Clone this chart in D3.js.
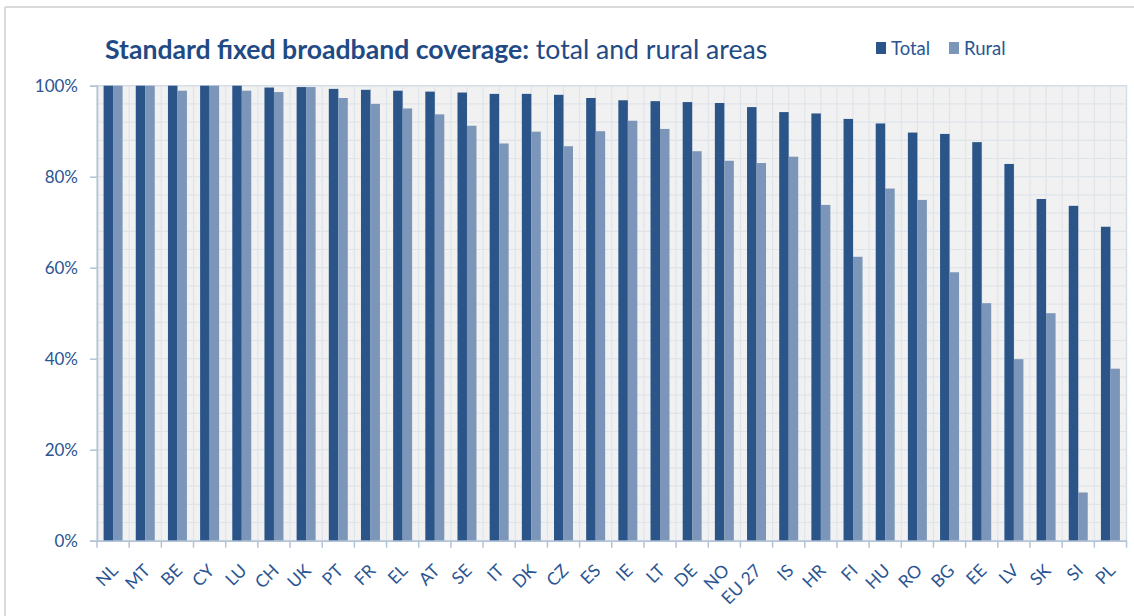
<!DOCTYPE html>
<html>
<head>
<meta charset="utf-8">
<script src="https://cdn.jsdelivr.net/npm/d3@7"></script>
<style>
  html, body { margin: 0; padding: 0; background: #fff; }
  svg { display: block; font-family: Lato, "Open Sans", sans-serif; }
</style>
</head>
<body>
<svg id="chart" width="1134" height="616"></svg>
<script>
// Coverage by country, in per cent
const countries = ["NL","MT","BE","CY","LU","CH","UK","PT","FR","EL","AT","SE","IT","DK","CZ","ES","IE","LT","DE","NO","EU 27","IS","HR","FI","HU","RO","BG","EE","LV","SK","SI","PL"];
const totalCoverage = [100,100,100,100,100,99.6,99.7,99.3,99.1,98.9,98.7,98.5,98.2,98.2,98.0,97.3,96.8,96.6,96.4,96.2,95.3,94.2,93.9,92.7,91.7,89.7,89.4,87.6,82.8,75.1,73.6,69.0];
const ruralCoverage = [100,100,98.9,100,98.9,98.6,99.7,97.3,96.0,95.0,93.7,91.2,87.3,89.9,86.7,90.0,92.3,90.5,85.6,83.5,83.0,84.4,73.8,62.4,77.4,74.9,59.0,52.2,39.9,50.0,10.6,37.8];
const seriesNames = ["Total","Rural"];
const yTicks = [0,20,40,60,80,100];

const colors = { Total: "#2b5589", Rural: "#7b96b8" };
const textBlue = "#2a5592";

const svg = d3.select("#chart");
const margin = { left: 97, right: 1134 - 1126.5, top: 85.7, bottom: 616 - 540.7 };
const W = 1134, H = 616;
const innerW = W - margin.left - margin.right;
const innerH = H - margin.top - margin.bottom;

// Outer frame
svg.append("line").attr("x1", 5).attr("x2", W).attr("y1", 7).attr("y2", 7)
  .attr("stroke", "#d9d9d9").attr("stroke-width", 2);
svg.append("line").attr("x1", 5).attr("x2", 5).attr("y1", 7).attr("y2", H)
  .attr("stroke", "#d9d9d9").attr("stroke-width", 2);

const g = svg.append("g").attr("transform", `translate(${margin.left},${margin.top})`);

const x = d3.scaleBand().domain(countries).range([0, innerW]).paddingInner(0).paddingOuter(0);
const groupW = x.bandwidth() * 0.59;
const xs = d3.scaleBand().domain(seriesNames).range([(x.bandwidth() - groupW) / 2, (x.bandwidth() + groupW) / 2]);
const y = d3.scaleLinear().domain([0, 100]).range([innerH, 0]);

// Plot background and fine grid
g.append("rect").attr("width", innerW).attr("height", innerH).attr("fill", "#f1f1f1")
  .attr("stroke", "#d5dde8").attr("stroke-width", 1.5);

const hGrid = d3.range(4, 100, 4);
g.append("g").selectAll("line").data(hGrid).join("line")
  .attr("x1", 0).attr("x2", innerW)
  .attr("y1", d => y(d)).attr("y2", d => y(d))
  .attr("stroke", "#dfe4eb").attr("stroke-width", 1.2);

const vGrid = [];
countries.forEach((c, i) => { if (i > 0) vGrid.push(x(c)); vGrid.push(x(c) + x.bandwidth() / 2); });
g.append("g").selectAll("line").data(vGrid).join("line")
  .attr("x1", d => d).attr("x2", d => d)
  .attr("y1", 0).attr("y2", innerH)
  .attr("stroke", "#dfe4eb").attr("stroke-width", 1.2);

// Bars
const rows = countries.map((c, i) => ({ country: c, Total: totalCoverage[i], Rural: ruralCoverage[i] }));
const groups = g.append("g").selectAll("g").data(rows).join("g")
  .attr("transform", d => `translate(${x(d.country)},0)`);
groups.selectAll("rect").data(d => seriesNames.map(s => ({ s, v: d[s] }))).join("rect")
  .attr("x", d => xs(d.s))
  .attr("width", xs.bandwidth())
  .attr("y", d => y(d.v))
  .attr("height", d => innerH - y(d.v))
  .attr("fill", d => colors[d.s]);

// Y axis
const yAxis = g.append("g").call(
  d3.axisLeft(y).tickValues(yTicks).tickFormat(d => d + "%").tickSize(7).tickPadding(12)
);
yAxis.select(".domain").attr("stroke", "#b3c3d7").attr("stroke-width", 1.5);
yAxis.selectAll(".tick line").attr("stroke", "#b3c3d7").attr("stroke-width", 1.5);
yAxis.selectAll(".tick text").attr("fill", textBlue).attr("font-size", 17)
  .attr("font-family", "Lato, sans-serif");

// X axis
const xAxis = g.append("g").attr("transform", `translate(0,${innerH})`)
  .call(d3.axisBottom(x).tickSize(0).tickFormat(d => d));
xAxis.select(".domain").attr("stroke", "#b3c3d7").attr("stroke-width", 1.5);
xAxis.selectAll(".tick text")
  .attr("fill", textBlue).attr("font-size", 17.5).attr("font-family", "Lato, sans-serif")
  .attr("text-anchor", "end").attr("dy", 0).attr("y", 0)
  .attr("transform", "translate(6,31) rotate(-45)");
// Category boundary ticks
const boundaries = countries.map(c => x(c)).concat([innerW]);
xAxis.append("g").selectAll("line").data(boundaries).join("line")
  .attr("x1", d => d).attr("x2", d => d).attr("y1", 0).attr("y2", 7)
  .attr("stroke", "#b3c3d7").attr("stroke-width", 1.5);

// Title
const title = svg.append("text").attr("x", 105).attr("y", 59)
  .attr("fill", "#1f4a85").attr("font-size", 26.6).attr("font-family", "Lato, sans-serif");
title.append("tspan").attr("font-weight", "bold").text("Standard fixed broadband coverage:");
title.append("tspan").attr("font-weight", "normal").text(" total and rural areas");

// Legend
const legend = svg.append("g").attr("transform", "translate(876,48)");
seriesNames.forEach((s, i) => {
  const lg = legend.append("g").attr("transform", `translate(${i * 73},0)`);
  lg.append("rect").attr("x", 0).attr("y", -6).attr("width", 10).attr("height", 12).attr("fill", colors[s]);
  lg.append("text").attr("x", 15).attr("y", 6.5).attr("fill", textBlue)
    .attr("font-size", 18.5).attr("font-family", "Lato, sans-serif").text(s);
});
</script>
</body>
</html>
